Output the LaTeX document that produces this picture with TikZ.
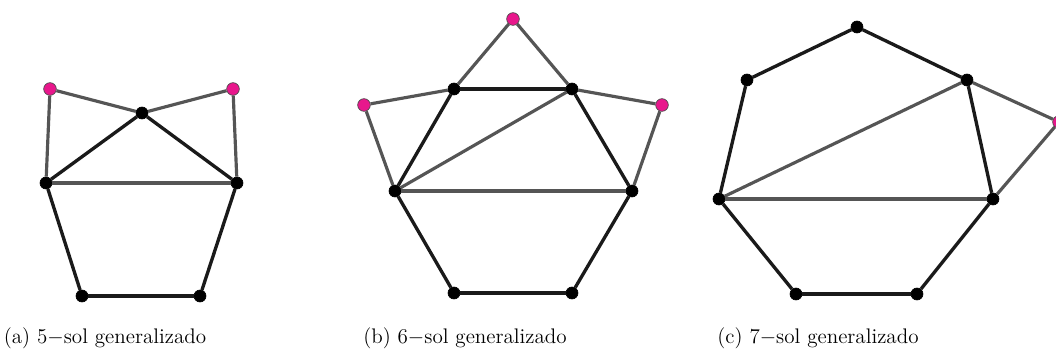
\documentclass[tikz,border=0pt]{standalone}
\usepackage{tikz}
\definecolor{rosa}{HTML}{E8178C}
\definecolor{gris}{HTML}{555555}
\definecolor{negro}{HTML}{1A1A1A}

\begin{document}
\begin{tikzpicture}[x=0.02cm, y=-0.02cm]
  \tikzset{
    nodo/.style={circle,draw=black,fill=black,minimum size=6.8pt,inner sep=0pt},
    punta/.style={circle,draw=black!70,fill=rosa,minimum size=7.2pt,inner sep=0pt,line width=0.4pt},
    ciclo/.style={draw=negro,line width=1.9pt},
    cuerda/.style={draw=gris,line width=1.8pt},
    pie/.style={anchor=base,font=\large}
  }
  \useasboundingbox (0,0) rectangle (1056,354);
  % (a) 5-sol
  \node[punta] (a1) at (50,89) {};
  \node[punta] (a2) at (233,89) {};
  \node[nodo] (a3) at (142,113) {};
  \node[nodo] (a4) at (46,183) {};
  \node[nodo] (a5) at (237,183) {};
  \node[nodo] (a6) at (82,296) {};
  \node[nodo] (a7) at (200,296) {};
  \draw[cuerda] (a1) -- (a3);
  \draw[cuerda] (a2) -- (a3);
  \draw[cuerda] (a1) -- (a4);
  \draw[cuerda] (a2) -- (a5);
  \draw[cuerda] (a4) -- (a5);
  \draw[ciclo] (a4) -- (a3);
  \draw[ciclo] (a3) -- (a5);
  \draw[ciclo] (a4) -- (a6);
  \draw[ciclo] (a6) -- (a7);
  \draw[ciclo] (a7) -- (a5);
  % (b) 6-sol
  \node[punta] (b1) at (513,19) {};
  \node[punta] (b2) at (364,105) {};
  \node[punta] (b3) at (662,105) {};
  \node[nodo] (b4) at (454,89) {};
  \node[nodo] (b5) at (572,89) {};
  \node[nodo] (b6) at (395,191) {};
  \node[nodo] (b7) at (632,191) {};
  \node[nodo] (b8) at (454,293) {};
  \node[nodo] (b9) at (572,293) {};
  \draw[cuerda] (b1) -- (b4);
  \draw[cuerda] (b1) -- (b5);
  \draw[cuerda] (b2) -- (b4);
  \draw[cuerda] (b2) -- (b6);
  \draw[cuerda] (b3) -- (b5);
  \draw[cuerda] (b3) -- (b7);
  \draw[cuerda] (b6) -- (b5);
  \draw[cuerda] (b6) -- (b7);
  \draw[ciclo] (b4) -- (b5);
  \draw[ciclo] (b4) -- (b6);
  \draw[ciclo] (b5) -- (b7);
  \draw[ciclo] (b6) -- (b8);
  \draw[ciclo] (b8) -- (b9);
  \draw[ciclo] (b9) -- (b7);
  % (c) 7-sol
  \node[nodo] (c1) at (857,27) {};
  \node[nodo] (c2) at (747,80) {};
  \node[nodo] (c3) at (967,80) {};
  \node[nodo] (c4) at (719,199) {};
  \node[nodo] (c5) at (993,199) {};
  \node[nodo] (c6) at (796,294) {};
  \node[nodo] (c7) at (917,294) {};
  \node[punta] (c8) at (1059,122) {};
  \draw[cuerda] (c3) -- (c8);
  \draw[cuerda] (c8) -- (c5);
  \draw[cuerda] (c4) -- (c3);
  \draw[cuerda] (c4) -- (c5);
  \draw[ciclo] (c1) -- (c2);
  \draw[ciclo] (c1) -- (c3);
  \draw[ciclo] (c2) -- (c4);
  \draw[ciclo] (c3) -- (c5);
  \draw[ciclo] (c4) -- (c6);
  \draw[ciclo] (c6) -- (c7);
  \draw[ciclo] (c7) -- (c5);
  % pies de figura
  \node[pie] (pa) at (105,344) {(a) $5-$sol generalizado};
  \node[pie] (pb) at (465,344) {(b) $6-$sol generalizado};
  \node[pie] (pc) at (818,344) {(c) $7-$sol generalizado};
\end{tikzpicture}
\end{document}
